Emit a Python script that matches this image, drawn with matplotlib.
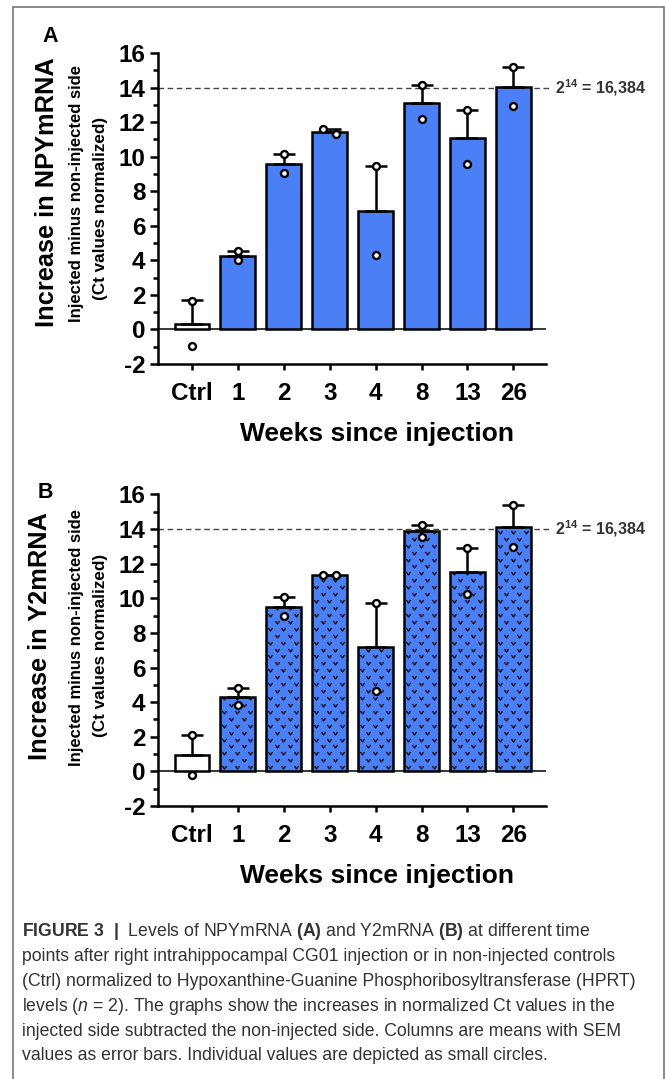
import numpy as np
import matplotlib
matplotlib.use("Agg")
import matplotlib.pyplot as plt
from matplotlib.path import Path
from matplotlib.patches import Rectangle

# ---- data ----
weeks = ["Ctrl", "1", "2", "3", "4", "8", "13", "26"]

npy_mean = [0.30, 4.27, 9.57, 11.45, 6.86, 13.10, 11.10, 14.02]
npy_sem = [1.38, 0.27, 0.56, 0.18, 2.61, 1.04, 1.60, 1.17]
npy_ind1 = [1.65, 4.54, 10.13, 11.29, 9.45, 14.14, 12.70, 15.19]
npy_ind2 = [-0.98, 4.04, 9.03, 11.63, 4.33, 12.17, 9.57, 12.93]

y2_mean = [0.93, 4.32, 9.48, 11.33, 7.16, 13.87, 11.55, 14.14]
y2_sem = [1.20, 0.51, 0.57, 0.02, 2.58, 0.35, 1.36, 1.28]
y2_ind1 = [2.13, 4.83, 10.05, 11.35, 9.74, 14.22, 12.91, 15.42]
y2_ind2 = [-0.23, 3.86, 8.99, 11.33, 4.64, 13.57, 10.24, 12.94]

ref_level = 14
ref_label = r"$\mathbf{2^{14}}$ = 16,384"

caption = [
    r"$\mathbf{FIGURE\ 3\ \ |\ }$ Levels of NPYmRNA $\mathbf{(A)}$ and Y2mRNA $\mathbf{(B)}$ at different time",
    "points after right intrahippocampal CG01 injection or in non-injected controls",
    "(Ctrl) normalized to Hypoxanthine-Guanine Phosphoribosyltransferase (HPRT)",
    r"levels ($\mathit{n}$ = 2). The graphs show the increases in normalized Ct values in the",
    "injected side subtracted the non-injected side. Columns are means with SEM",
    "values as error bars. Individual values are depicted as small circles.",
]

plt.rcParams["font.family"] = ["Liberation Sans", "DejaVu Sans"]
plt.rcParams["axes.unicode_minus"] = False
plt.rcParams["mathtext.fontset"] = "custom"
plt.rcParams["mathtext.rm"] = "Liberation Sans"
plt.rcParams["mathtext.bf"] = "Liberation Sans:bold"
plt.rcParams["mathtext.it"] = "Liberation Sans:italic"

W, H = 666, 1079
BLUE = "#4a7ff5"
LW = 1.8

fig = plt.figure(figsize=(W / 100, H / 100), dpi=100)


def px(x, y):
    return x / W, 1 - y / H


chevron = Path([(-1, 0.7), (0, -0.7), (1, 0.7)],
               [Path.MOVETO, Path.LINETO, Path.LINETO])


def add_chevrons(ax, bar, dx=0.28, dy=0.4):
    x0, w, h = bar.get_x(), bar.get_width(), bar.get_height()
    xs, ys = [], []
    for k, yy in enumerate(np.arange(dy * 0.6, h, dy)):
        off = dx / 2 if k % 2 else 0
        for xx in np.arange(x0 + dx * 0.3 + off, x0 + w, dx):
            xs.append(xx)
            ys.append(yy)
    ln, = ax.plot(xs, ys, ls="none", marker=chevron, ms=3.0, mew=0.9,
                  mfc="none", mec="black", zorder=2.5)
    ln.set_clip_path(bar)


def draw_panel(ax, means, sems, ind1, ind2, hatched):
    x = np.arange(len(weeks))
    colors = ["white"] + [BLUE] * (len(weeks) - 1)
    bars = ax.bar(x, means, width=0.76, color=colors, edgecolor="black",
                  linewidth=LW, zorder=2)
    if hatched:
        for b in list(bars)[1:]:
            add_chevrons(ax, b)
    ax.errorbar(x, means, yerr=[np.zeros(len(x)), sems], fmt="none",
                ecolor="black", elinewidth=LW, capsize=8, capthick=LW, zorder=3)
    # individual values, spread sideways only where they overlap
    a, b = np.array(ind1), np.array(ind2)
    spread = np.where(np.abs(a - b) < 0.4, 0.14, 0.0)
    ax.plot(np.concatenate([x + spread, x - spread]), np.concatenate([a, b]),
            ls="none", marker="o", ms=5, mew=1.7, mfc="white", mec="black",
            zorder=4)

    ax.axhline(0, color="black", lw=1.1, zorder=1.5)
    ax.hlines(ref_level, -0.74, 7.78, colors="#444444", lw=1.0,
              linestyles=(0, (4, 2.6)), zorder=1, clip_on=False)
    ax.text(7.9, ref_level, ref_label, fontsize=11.5, fontweight="bold",
            color="#333333", va="center", ha="left", clip_on=False)

    ax.set_xlim(-0.74, 7.71)
    ax.set_ylim(-2, 16)
    ax.set_yticks(np.arange(-2, 17, 2))
    ax.set_yticklabels([str(v) for v in range(-2, 17, 2)])
    ax.set_yticks(np.arange(-1, 16, 2), minor=True)
    ax.set_xticks(x)
    ax.set_xticklabels(weeks)
    for s in ["top", "right"]:
        ax.spines[s].set_visible(False)
    for s in ["left", "bottom"]:
        ax.spines[s].set_linewidth(LW)
    ax.tick_params(axis="y", which="major", length=6, width=LW, pad=3,
                   labelsize=17.5)
    ax.tick_params(axis="y", which="minor", length=3.5, width=LW)
    ax.tick_params(axis="x", length=4, width=LW, pad=9, labelsize=17.5)
    for lab in ax.get_xticklabels() + ax.get_yticklabels():
        lab.set_fontweight("bold")


ax_a = fig.add_axes([158 / W, 1 - 364 / H, 388 / W, 311 / H])
draw_panel(ax_a, npy_mean, npy_sem, npy_ind1, npy_ind2, hatched=False)

ax_b = fig.add_axes([158 / W, 1 - 806 / H, 388 / W, 311.5 / H])
draw_panel(ax_b, y2_mean, y2_sem, y2_ind1, y2_ind2, hatched=True)

# axis titles and panel letters
fig.text(*px(50, 36), "A", fontsize=15.5, fontweight="bold", ha="center", va="center")
fig.text(*px(45, 493), "B", fontsize=15.5, fontweight="bold", ha="center", va="center")

fig.text(*px(47, 192), "Increase in NPYmRNA", fontsize=18.3, fontweight="bold",
         rotation=90, ha="center", va="center")
fig.text(*px(40, 636), "Increase in Y2mRNA", fontsize=18.3, fontweight="bold",
         rotation=90, ha="center", va="center")
for yc1, yc2 in [(193, 208), (638, 645)]:
    fig.text(*px(77, yc1), "Injected minus non-injected side", fontsize=12,
             fontweight="bold", rotation=90, ha="center", va="center")
    fig.text(*px(100, yc2), "(Ct values normalized)", fontsize=12.3,
             fontweight="bold", rotation=90, ha="center", va="center")

fig.text(*px(377, 434), "Weeks since injection", fontsize=19, fontweight="bold",
         ha="center", va="center")
fig.text(*px(377, 876), "Weeks since injection", fontsize=19, fontweight="bold",
         ha="center", va="center")

# caption
for i, line in enumerate(caption):
    fig.text(*px(22, 936 + 24.9 * i), line, fontsize=12.7, color="#333333",
             ha="left", va="baseline")

# frame around the figure
fig.add_artist(Rectangle(px(13, 1090), (664 - 13) / W, (1090 - 7) / H,
                         transform=fig.transFigure, fill=False,
                         edgecolor="#777777", lw=1.2))

fig.savefig("out.png", dpi=100)
